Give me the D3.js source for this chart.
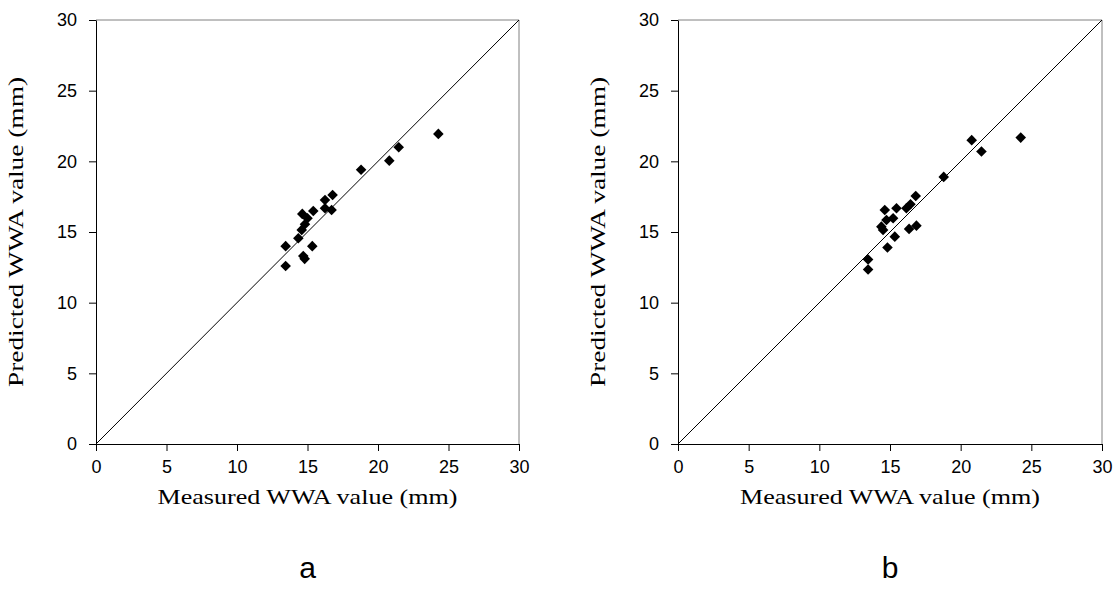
<!DOCTYPE html>
<html><head><meta charset="utf-8">
<script src="https://cdn.jsdelivr.net/npm/d3@7"></script>
<style>body{margin:0;background:#fff}</style>
</head><body>
<svg id="c" width="1115" height="600"></svg>
<script>
const ticks = [0, 5, 10, 15, 20, 25, 30];
const measuredA = [13.45, 13.45, 14.35, 14.59, 14.63, 14.7, 14.8, 14.82, 15.0, 15.34, 15.41, 16.24, 16.24, 16.71, 16.78, 18.8, 20.8, 21.47, 24.28];
const predictedA = [14.0, 12.6, 14.56, 15.15, 16.28, 13.3, 13.1, 15.55, 15.97, 14.0, 16.49, 17.27, 16.68, 16.56, 17.62, 19.4, 20.05, 21.0, 21.94];
const measuredB = [13.45, 13.45, 14.39, 14.51, 14.63, 14.75, 14.82, 15.22, 15.34, 15.46, 16.16, 16.35, 16.45, 16.82, 16.87, 18.8, 20.78, 21.47, 24.25];
const predictedB = [13.05, 12.35, 15.38, 15.15, 16.56, 15.85, 13.9, 15.97, 14.67, 16.68, 16.68, 15.22, 16.96, 17.55, 15.45, 18.9, 21.5, 20.69, 21.68];
const panels = [
  {label: "a", x0: 96, x1: 519, mx: measuredA, py: predictedA},
  {label: "b", x0: 678, x1: 1102, mx: measuredB, py: predictedB}
];
const xTitle = "Measured WWA value (mm)";
const yTitle = "Predicted WWA value (mm)";
const svg = d3.select("#c");
const yTop = 20, yBottom = 444;

panels.forEach(p => {
  const x = d3.scaleLinear().domain([0, 30]).range([p.x0, p.x1]);
  const y = d3.scaleLinear().domain([0, 30]).range([yBottom, yTop]);
  const g = svg.append("g");
  g.append("path")
    .attr("d", `M${x(0)},${y(30)}H${x(30)}V${y(0)}`)
    .attr("fill", "none").attr("stroke", "#808080").attr("stroke-width", 1);
  g.append("line")
    .attr("x1", x(0)).attr("y1", y(0)).attr("x2", x(30)).attr("y2", y(30))
    .attr("stroke", "#000").attr("stroke-width", 1);
  const xa = g.append("g").attr("transform", `translate(0,${yBottom})`)
    .call(d3.axisBottom(x).tickValues(ticks).tickSize(7).tickPadding(9).tickSizeOuter(0));
  const ya = g.append("g").attr("transform", `translate(${p.x0},0)`)
    .call(d3.axisLeft(y).tickValues(ticks).tickSize(7).tickPadding(12).tickSizeOuter(0));
  [xa, ya].forEach(a => {
    a.select(".domain").attr("stroke", "#000");
    a.selectAll(".tick line").attr("stroke", "#000");
    a.selectAll("text").attr("font-family", "Liberation Sans, Arial, sans-serif")
      .attr("font-size", 18).attr("fill", "#000");
  });
  g.selectAll("path.pt").data(p.mx.map((m, i) => [m, p.py[i]])).join("path")
    .attr("class", "pt")
    .attr("transform", d => `translate(${x(d[0])},${y(d[1])}) rotate(45)`)
    .attr("d", d3.symbol().type(d3.symbolSquare).size(56))
    .attr("fill", "#000");
  g.append("text").attr("x", (p.x0 + p.x1) / 2).attr("y", 504)
    .attr("text-anchor", "middle").attr("font-family", "Liberation Serif, Times New Roman, serif")
    .attr("font-size", 22).attr("textLength", 300).attr("lengthAdjust", "spacingAndGlyphs").text(xTitle);
  g.append("text").attr("transform", `translate(${p.x0 - 73},${(yTop + yBottom) / 2}) rotate(-90)`)
    .attr("text-anchor", "middle").attr("font-family", "Liberation Serif, Times New Roman, serif")
    .attr("font-size", 22).attr("textLength", 310).attr("lengthAdjust", "spacingAndGlyphs").text(yTitle);
  g.append("text").attr("x", (p.x0 + p.x1) / 2).attr("y", 578)
    .attr("text-anchor", "middle").attr("font-family", "Liberation Sans, Arial, sans-serif")
    .attr("font-size", 30).text(p.label);
});
</script>
</body></html>
